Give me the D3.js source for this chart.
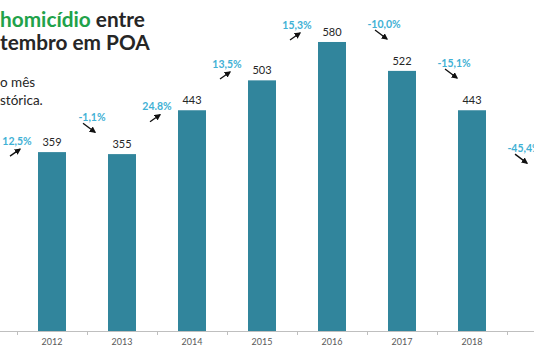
<!DOCTYPE html>
<html>
<head>
<meta charset="utf-8">
<script src="https://cdn.jsdelivr.net/npm/d3@7"></script>
<style>
  body { margin: 0; background: #fff; }
  svg { display: block; font-family: Lato, "Open Sans", sans-serif; }
</style>
</head>
<body>
<svg width="534" height="353"></svg>
<script>
const years = ["2012", "2013", "2014", "2015", "2016", "2017", "2018"];
const cases = [359, 355, 443, 503, 580, 522, 443];

// variação anual (o ano de 2019 só aparece como rótulo)
const changeYears = ["2012", "2013", "2014", "2015", "2016", "2017", "2018", "2019"];
const changeValues = [12.5, -1.1, 24.8, 13.5, 15.3, -10.0, -15.1, -45.4];
const changeLabels = ["12,5%", "-1,1%", "24.8%", "13,5%", "15,3%", "-10,0%", "-15,1%", "-45,4%"];
// altura (em casos) onde cada rótulo de variação foi posto
const changeLevel = [381, 429, 450, 536, 614, 616, 538, 367];

const svg = d3.select("svg");
const W = 534, baseY = 331;

const x = d3.scaleBand()
    .domain(changeYears)
    .range([17, 577])
    .paddingInner(0)
    .paddingOuter(0);

const y = d3.scaleLinear()
    .domain([0, 600])
    .range([baseY, baseY - 600 * 0.4983]);

const barW = 28;

// titulo (a imagem original está cortada à esquerda)
const title = svg.append("text")
    .attr("x", 0).attr("y", 27)
    .attr("font-size", "20.8px")
    .attr("font-weight", "bold")
    .attr("fill", "#262626");
title.append("tspan").attr("fill", "#21a24a").text("homicídio");
title.append("tspan").text(" entre");

svg.append("text")
    .attr("x", 0).attr("y", 50)
    .attr("font-size", "20.8px")
    .attr("font-weight", "bold")
    .attr("fill", "#262626")
    .text("tembro em POA");

svg.append("text")
    .attr("x", 0).attr("y", 87)
    .attr("font-size", "13.5px")
    .attr("fill", "#262626")
    .text("o mês");

svg.append("text")
    .attr("x", 0).attr("y", 105)
    .attr("font-size", "13.5px")
    .attr("fill", "#262626")
    .text("stórica.");

// barras
const data = years.map((d, i) => ({ year: d, value: cases[i] }));

svg.selectAll("rect.bar")
    .data(data)
    .enter()
    .append("rect")
    .attr("class", "bar")
    .attr("x", d => x(d.year) + x.bandwidth() / 2 - barW / 2)
    .attr("y", d => y(d.value))
    .attr("width", barW)
    .attr("height", d => baseY - y(d.value))
    .attr("fill", "#31859c");

svg.selectAll("text.val")
    .data(data)
    .enter()
    .append("text")
    .attr("class", "val")
    .attr("x", d => x(d.year) + x.bandwidth() / 2)
    .attr("y", d => y(d.value) - 6)
    .attr("text-anchor", "middle")
    .attr("font-size", "11px")
    .attr("fill", "#262626")
    .text(d => d.value);

// eixo
const axis = svg.append("g")
    .attr("transform", `translate(0,${baseY})`)
    .call(d3.axisBottom(x).tickSize(0).tickPadding(8));
axis.select(".domain").remove();
axis.selectAll("text")
    .attr("font-family", "Lato, sans-serif")
    .attr("font-size", "9px")
    .attr("fill", "#595959")
    .text(d => years.includes(d) ? d : "");

svg.append("line")
    .attr("x1", 0).attr("x2", W)
    .attr("y1", baseY + 0.5).attr("y2", baseY + 0.5)
    .attr("stroke", "#bfbfbf");

svg.selectAll("line.tk")
    .data(changeYears)
    .enter()
    .append("line")
    .attr("class", "tk")
    .attr("x1", d => Math.round(x(d)) + 0.5)
    .attr("x2", d => Math.round(x(d)) + 0.5)
    .attr("y1", baseY)
    .attr("y2", baseY + 4)
    .attr("stroke", "#bfbfbf");

// setas e variações
svg.append("defs").append("marker")
    .attr("id", "head")
    .attr("viewBox", "0 0 10 10")
    .attr("refX", 8).attr("refY", 5)
    .attr("markerWidth", 5).attr("markerHeight", 5)
    .attr("orient", "auto")
    .append("path")
    .attr("d", "M0,0 L10,5 L0,10 z")
    .attr("fill", "#111");

const notes = changeYears.map((d, i) => {
  const up = changeValues[i] >= 0;
  // a primeira queda fica mais perto do traço do eixo
  const shift = up ? 0 : (i === 1 ? 5 : 17);
  return {
    up: up,
    label: changeLabels[i],
    cx: x(d) + shift,
    cy: y(changeLevel[i])
  };
});

svg.selectAll("text.pct")
    .data(notes)
    .enter()
    .append("text")
    .attr("class", "pct")
    .attr("x", d => d.cx)
    .attr("y", d => d.cy)
    .attr("dy", "0.35em")
    .attr("text-anchor", "middle")
    .attr("font-size", "10.5px")
    .attr("font-weight", "bold")
    .attr("fill", "#3fb1d5")
    .text(d => d.label);

svg.selectAll("line.arrow")
    .data(notes)
    .enter()
    .append("line")
    .attr("class", "arrow")
    .attr("x1", d => d.up ? d.cx - 7 : d.cx - 9)
    .attr("y1", d => d.up ? d.cy + 15 : d.cy + 6)
    .attr("x2", d => d.cx + 3)
    .attr("y2", d => d.up ? d.cy + 8 : d.cy + 15)
    .attr("stroke", "#111")
    .attr("stroke-width", 1.3)
    .attr("marker-end", "url(#head)");
</script>
</body>
</html>
